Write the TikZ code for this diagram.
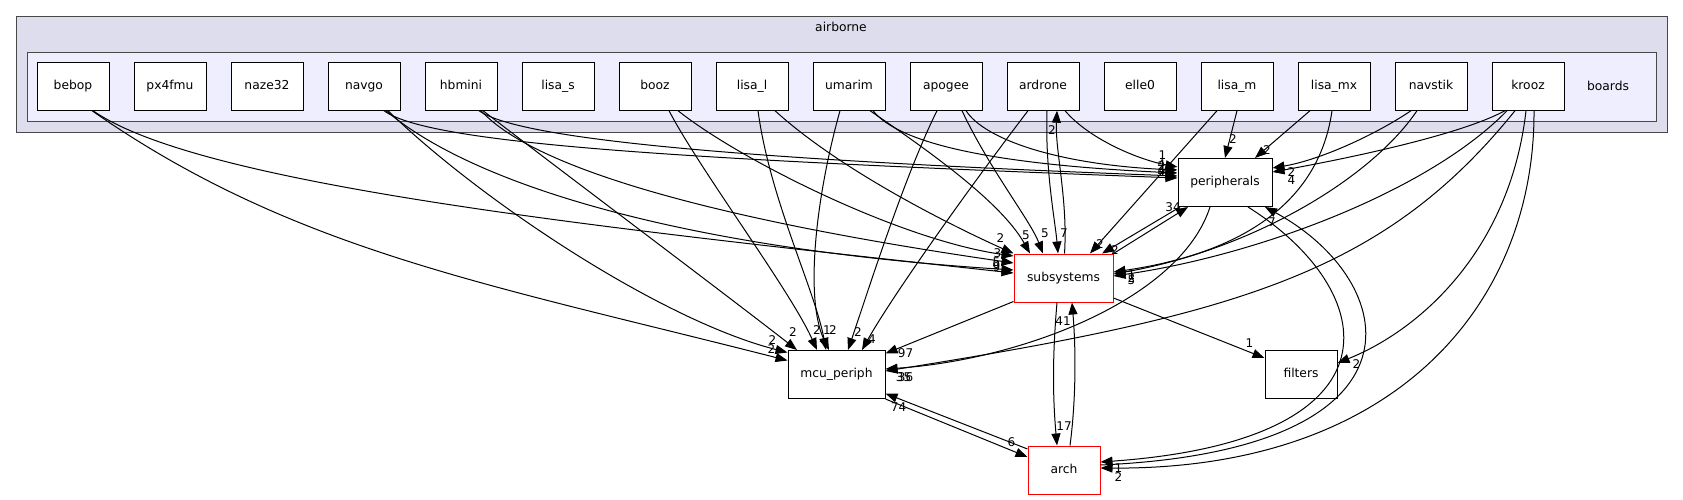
\documentclass[tikz,border=0pt]{standalone}
\usepackage{fontspec}
\setmainfont{DejaVu Sans}
\usetikzlibrary{arrows.meta, positioning}

\definecolor{clusterline}{RGB}{72,72,72}
\definecolor{outerfill}{RGB}{221,221,238}
\definecolor{innerfill}{RGB}{238,238,255}

\begin{document}
\begin{tikzpicture}[
  x=1pt, y=-1pt,
  node distance=24pt,
  outerclu/.style={draw=clusterline, fill=outerfill, line width=1.5pt, inner sep=0pt, anchor=north west},
  innerclu/.style={draw=clusterline, fill=innerfill, line width=1.5pt, inner sep=0pt, anchor=north west},
  board/.style={draw=black, fill=white, line width=1pt, minimum width=72pt, minimum height=48pt, inner sep=0pt, text height=9pt, text depth=2.5pt, font=\fontsize{12.3}{14}\selectfont},
  dirbox/.style={board},
  reddir/.style={board, draw=red},
  title/.style={font=\fontsize{12.3}{14}\selectfont, inner sep=0pt},
  dep/.style={-{Triangle[length=12pt,width=9pt]}, line width=1pt},
  lbl/.style={font=\fontsize{12}{14}\selectfont, inner sep=0pt}
]
\useasboundingbox (0,0) rectangle (1683,500);

% clusters
\node[outerclu, minimum width=1651pt, minimum height=116pt] (airborne) at (15.7,15.7) {};
\node[title] (airborne_lbl) at (841,27) {airborne};
\node[innerclu, minimum width=1629pt, minimum height=69.3pt] (boards) at (26.7,51.7) {};
\node[title] (boards_lbl) at (1608,86.2) {boards};

% board directories
\node[board] (bebop) at (73,86.2) {bebop};
\node[board, right=of bebop] (px4fmu) {px4fmu};
\node[board, right=of px4fmu] (naze32) {naze32};
\node[board, right=of naze32] (navgo) {navgo};
\node[board, right=of navgo] (hbmini) {hbmini};
\node[board, right=of hbmini] (lisa_s) {lisa\_s};
\node[board, right=of lisa_s] (booz) {booz};
\node[board, right=of booz] (lisa_l) {lisa\_l};
\node[board, right=of lisa_l] (umarim) {umarim};
\node[board, right=of umarim] (apogee) {apogee};
\node[board, right=of apogee] (ardrone) {ardrone};
\node[board, right=of ardrone] (elle0) {elle0};
\node[board, right=of elle0] (lisa_m) {lisa\_m};
\node[board, right=of lisa_m] (lisa_mx) {lisa\_mx};
\node[board, right=of lisa_mx] (navstik) {navstik};
\node[board, right=of navstik] (krooz) {krooz};

% other directories
\node[dirbox, minimum width=94pt] (peripherals) at (1225,182.5) {peripherals};
\node[reddir, minimum width=99pt] (subsystems) at (1063.5,278) {subsystems};
\node[dirbox, minimum width=97pt] (mcu_periph) at (836.5,374.5) {mcu\_periph};
\node[dirbox] (filters) at (1301,374) {filters};
\node[reddir] (arch) at (1064,470) {arch};

% bebop
\draw[dep] ([xshift=19pt]bebop.south) .. controls (293,251) and (488,284) .. ([yshift=14pt]mcu_periph.west) node[lbl, xshift=-16pt, yshift=11.5pt] {2};
\draw[dep] ([xshift=20pt]bebop.south) .. controls (200,185) and (600,228) .. ([yshift=5pt]subsystems.west) node[lbl, xshift=-17pt, yshift=6pt] {9};

% navgo
\draw[dep] ([xshift=20pt]navgo.south) .. controls (430,145) and (700,160) .. ([yshift=4.5pt]peripherals.west) node[lbl, xshift=-16pt, yshift=6pt] {4};
\draw[dep] ([xshift=22pt]navgo.south) .. controls (480,190) and (700,250) .. ([yshift=8pt]subsystems.west) node[lbl, xshift=-17pt, yshift=5pt] {9};
\draw[dep] ([xshift=24pt]navgo.south) .. controls (480,200) and (660,320) .. ([yshift=22pt]mcu_periph.west) node[lbl, xshift=-15pt, yshift=12.5pt] {2};

% hbmini
\draw[dep] ([xshift=18pt]hbmini.south) .. controls (520,140) and (750,160) .. ([yshift=6.5pt]peripherals.west) node[lbl, xshift=-16pt, yshift=6pt] {4};
\draw[dep] ([xshift=20pt]hbmini.south) .. controls (540,175) and (750,225) .. ([yshift=15pt]subsystems.west) node[lbl, xshift=-17pt, yshift=1pt] {5};
\draw[dep] ([xshift=22pt]hbmini.south) .. controls (560,170) and (720,290) .. ([xshift=-39.5pt]mcu_periph.north) node[lbl, xshift=-4pt, yshift=17.5pt] {2};

% booz
\draw[dep] ([xshift=14pt]booz.south) .. controls (700,170) and (790,290) .. ([xshift=-19.5pt]mcu_periph.north) node[lbl, yshift=20pt] {2};
\draw[dep] ([xshift=23pt]booz.south) .. controls (740,160) and (900,240) .. ([yshift=22pt]subsystems.west) node[lbl, xshift=-16pt, yshift=3pt] {3};

% lisa_l
\draw[dep] ([xshift=6pt]lisa_l.south) .. controls (770,200) and (815,290) .. ([xshift=-10.5pt]mcu_periph.north) node[lbl, xshift=1pt, yshift=20pt] {1};
\draw[dep] ([xshift=23pt]lisa_l.south) .. controls (840,170) and (950,225) .. (subsystems.north west) node[lbl, xshift=-13pt, yshift=15pt] {2};

% umarim
\draw[dep] ([xshift=-9pt]umarim.south) .. controls (815,200) and (805,300) .. ([xshift=-7.5pt]mcu_periph.north) node[lbl, xshift=4pt, yshift=20pt] {2};
\draw[dep] ([xshift=21pt]umarim.south) .. controls (920,145) and (1000,200) .. ([xshift=-33.5pt]subsystems.north) node[lbl, xshift=-4pt, yshift=18pt] {5};
\draw[dep] ([xshift=24pt]umarim.south) .. controls (900,145) and (1000,165) .. ([yshift=9.5pt]peripherals.west) node[lbl, xshift=-16pt, yshift=7pt] {2};

% apogee
\draw[dep] ([xshift=-9pt]apogee.south) .. controls (905,175) and (870,285) .. ([xshift=11.5pt]mcu_periph.north) node[lbl, xshift=10pt, yshift=17.5pt] {2};
\draw[dep] ([xshift=16pt]apogee.south) .. controls (990,170) and (1030,220) .. ([xshift=-20.5pt]subsystems.north) node[lbl, xshift=2pt, yshift=20pt] {5};
\draw[dep] ([xshift=20pt]apogee.south) .. controls (985,140) and (1060,165) .. ([yshift=12.5pt]peripherals.west) node[lbl, xshift=-16pt, yshift=6pt] {4};

% ardrone
\draw[dep] ([xshift=-15pt]ardrone.south) .. controls (960,200) and (890,300) .. ([xshift=25.5pt]mcu_periph.north) node[lbl, xshift=10pt, yshift=10.5pt] {4};
\draw[dep] ([xshift=4pt]ardrone.south) .. controls (1045,170) and (1055,220) .. ([xshift=-5.5pt]subsystems.north) node[lbl, xshift=6pt, yshift=20pt] {7};
\draw[dep] ([xshift=1pt]subsystems.north) .. controls (1068,200) and (1055,150) .. ([xshift=14pt]ardrone.south) node[lbl, xshift=-5pt, yshift=-19pt] {2};
\draw[dep] ([xshift=22pt]ardrone.south) .. controls (1090,140) and (1140,160) .. ([yshift=15.5pt]peripherals.west) node[lbl, xshift=-15pt, yshift=12pt] {1};

% lisa_m
\draw[dep] ([xshift=-20pt]lisa_m.south) -- ([xshift=26.5pt]subsystems.north) node[lbl, xshift=10pt, yshift=9pt] {2};
\draw[dep] (lisa_m.south) -- (peripherals.north) node[lbl, xshift=8pt, yshift=18.5pt] {2};

% lisa_mx
\draw[dep] ([xshift=-24pt]lisa_mx.south) -- ([xshift=30pt]peripherals.north) node[lbl, xshift=12pt, yshift=7.5pt] {2};
\draw[dep] ([xshift=-2pt]lisa_mx.south) .. controls (1318,210) and (1230,255) .. ([yshift=6pt]subsystems.east) node[lbl, xshift=18pt, yshift=-3pt] {1};

% navstik
\draw[dep] ([xshift=-20pt]navstik.south) .. controls (1375,135) and (1320,160) .. ([yshift=14.5pt]peripherals.east) node[lbl, xshift=19pt, yshift=-4pt] {2};
\draw[dep] ([xshift=-14pt]navstik.south) .. controls (1370,180) and (1250,250) .. ([yshift=4pt]subsystems.east) node[lbl, xshift=18pt, yshift=-4pt] {2};

% krooz
\draw[dep] ([xshift=-23pt]krooz.south) .. controls (1460,135) and (1350,158) .. ([yshift=10.5pt]peripherals.east) node[lbl, xshift=19pt, yshift=-8pt] {4};
\draw[dep] ([xshift=-21pt]krooz.south) .. controls (1430,190) and (1260,255) .. ([yshift=2pt]subsystems.east) node[lbl, xshift=18pt, yshift=-4pt] {5};
\draw[dep] ([xshift=-13pt]krooz.south) .. controls (1384,273) and (1238,315) .. ([yshift=3.5pt]mcu_periph.east) node[lbl, xshift=20pt, yshift=-6pt] {36};
\draw[dep] ([xshift=-2pt]krooz.south) .. controls (1510,250) and (1420,330) .. ([yshift=11pt]filters.east) node[lbl, xshift=19pt, yshift=-1pt] {2};
\draw[dep] ([xshift=6pt]krooz.south) .. controls (1535,300) and (1400,470) .. ([yshift=2pt]arch.east) node[lbl, xshift=18pt, yshift=-9pt] {2};

% between the lower directories
\draw[dep] ([yshift=1pt]subsystems.south west) -- ([yshift=21pt]mcu_periph.east) node[lbl, xshift=20pt, yshift=0.5pt] {97};
\draw[dep] ([xshift=-15pt]peripherals.south) .. controls (1180,300) and (1020,360) .. ([yshift=5.5pt]mcu_periph.east) node[lbl, xshift=18pt, yshift=-8pt] {35};
\draw[dep] (subsystems.north east) -- ([xshift=-37pt]peripherals.south) node[lbl, xshift=-15pt, yshift=-0.5pt] {34};
\draw[dep] ([xshift=-45pt]peripherals.south) -- ([xshift=38.5pt]subsystems.north) node[lbl, xshift=13pt, yshift=3pt] {2};
\draw[dep] ([yshift=-20pt]subsystems.east) -- ([yshift=16pt]filters.west) node[lbl, xshift=-15pt, yshift=15pt] {1};
\draw[dep] ([xshift=-6.5pt]subsystems.south) .. controls (1052,360) and (1053,400) .. ([xshift=-7pt]arch.north) node[lbl, xshift=7pt, yshift=19pt] {17};
\draw[dep] ([xshift=6pt]arch.north) .. controls (1076,400) and (1076,350) .. ([xshift=8.5pt]subsystems.south) node[lbl, xshift=-9pt, yshift=-19pt] {41};
\draw[dep] (mcu_periph.south east) -- ([yshift=13pt]arch.west) node[lbl, xshift=-16pt, yshift=15pt] {6};
\draw[dep] ([yshift=21pt]arch.west) -- ([yshift=-19pt]mcu_periph.east) node[lbl, xshift=13pt, yshift=-13.5pt] {74};
\draw[dep] ([xshift=23pt]peripherals.south) .. controls (1380,290) and (1410,440) .. ([yshift=8pt]arch.east) node[lbl, xshift=18pt, yshift=-6pt] {1};
\draw[dep] ([yshift=5pt]arch.east) .. controls (1440,450) and (1400,280) .. ([xshift=40pt]peripherals.south) node[lbl, xshift=7pt, yshift=-15.5pt] {7};

\end{tikzpicture}
\end{document}
